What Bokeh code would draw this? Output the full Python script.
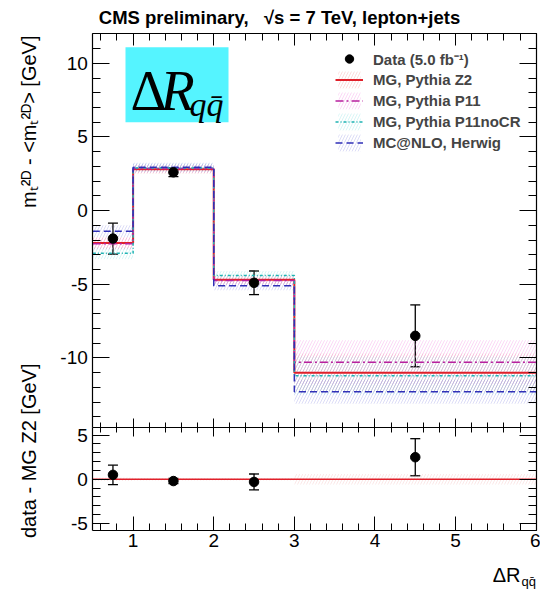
import numpy as np
from bokeh.plotting import figure
from bokeh.models import (Range1d, LinearAxis, SingleIntervalTicker, Whisker, TeeHead,
                          ColumnDataSource, Label, BoxAnnotation, Legend, LegendItem,
                          CustomJSTickFormatter)
from bokeh.embed import file_html
from bokeh.resources import INLINE

# ---------------- data ----------------
bin_edges = [0.5, 1.0, 2.0, 3.0, 6.0]
bin_centers = [0.75, 1.5, 2.5, 4.5]

data_y = [-1.9, 2.6, -4.9, -8.5]
data_err = [1.05, 0.3, 0.8, 2.1]

z2_y = [-2.2, 2.8, -4.7, -11.0]
z2_err = [0.4, 0.3, 0.3, 1.3]
p11_y = [-2.25, 2.85, -4.75, -10.3]
p11_err = [0.4, 0.3, 0.3, 1.5]
nocr_y = [-2.9, 2.9, -4.4, -11.2]
nocr_err = [0.4, 0.3, 0.3, 1.3]
herwig_y = [-1.4, 2.95, -5.1, -12.3]
herwig_err = [0.4, 0.3, 0.3, 0.8]

ratio_y = [0.5, -0.2, -0.3, 2.5]
ratio_err = [1.1, 0.3, 0.9, 2.1]
ratio_zero = [0.0, 0.0, 0.0, 0.0]
ratio_band = [0.2, 0.15, 0.15, 0.6]

upper_lim = (-14.7, 12.0)
lower_lim = (-5.8, 5.9)
x_lim = (0.5, 6.0)

# ---------------- layout (canvas pixels, y down) ----------------
W, H = 540, 590
FX0, FX1 = 92.3, 535.7          # panel left / right
UY0, UY1 = 33.3, 426.7          # upper panel top / bottom
LY1 = 530.0                     # lower panel bottom

sx_ = (FX1 - FX0) / (x_lim[1] - x_lim[0])
xr = Range1d(x_lim[0] - FX0 / sx_, x_lim[1] + (W - FX1) / sx_)
su_ = (UY1 - UY0) / (upper_lim[1] - upper_lim[0])
yr = Range1d(upper_lim[0] - (H - UY1) / su_, upper_lim[1] + UY0 / su_)
sl_ = (LY1 - UY1) / (lower_lim[1] - lower_lim[0])
lr = Range1d(lower_lim[0] - (H - LY1) / sl_, lower_lim[1] + UY1 / sl_)

p = figure(width=W, height=H, x_range=xr, y_range=yr,
           x_axis_type=None, y_axis_type=None, title=None,
           output_backend="svg", toolbar_location=None, min_border=0)
p.extra_y_ranges = {"low": lr}
p.outline_line_color = None
p.background_fill_color = "white"
p.border_fill_color = "white"

FONT = "Liberation Sans"


def add_axis(side, loc, bounds, ticker, tin, tout, min_in, min_out, labels=False, rng=None,
             standoff=5):
    kw = {}
    if rng is not None:
        kw["y_range_name"] = rng
    ax = LinearAxis(ticker=ticker, fixed_location=loc, bounds=bounds, **kw)
    ax.axis_line_color = "black"
    ax.axis_line_width = 1.2
    ax.major_tick_in = tin
    ax.major_tick_out = tout
    ax.minor_tick_in = min_in
    ax.minor_tick_out = min_out
    ax.major_tick_line_color = "black"
    ax.minor_tick_line_color = "black"
    if labels:
        ax.formatter = CustomJSTickFormatter(code="return tick.toFixed(0)")
        ax.major_label_text_font = FONT
        ax.major_label_text_font_size = "19px"
        ax.major_label_text_color = "black"
        ax.major_label_standoff = standoff
    else:
        ax.major_label_text_color = None
    p.add_layout(ax, side)
    return ax


xt = lambda: SingleIntervalTicker(interval=1, num_minor_ticks=5)
yt = lambda: SingleIntervalTicker(interval=5, num_minor_ticks=5)

# upper panel axes
add_axis("left", x_lim[0], upper_lim, yt(), 17, 0, 8, 0, labels=True)
add_axis("right", x_lim[1], upper_lim, yt(), 17, 0, 8, 0)
add_axis("above", upper_lim[1], x_lim, xt(), 12, 0, 7, 0)
add_axis("below", upper_lim[0], x_lim, xt(), 9, 9, 5, 5)
# lower panel axes
add_axis("left", x_lim[0], lower_lim, yt(), 17, 0, 8, 0, labels=True, rng="low")
add_axis("right", x_lim[1], lower_lim, yt(), 17, 0, 8, 0, rng="low")
add_axis("below", lower_lim[0], x_lim, xt(), 14, 0, 7, 0, labels=True, rng="low", standoff=3)

# ---------------- MC histograms ----------------
series = [
    ("MG, Pythia Z2", z2_y, z2_err, "#E0202A", "solid", 2.0, "#F08080"),
    ("MG, Pythia P11", p11_y, p11_err, "#B8209E", "8 3 2 3", 1.5, "#F070E0"),
    ("MG, Pythia P11noCR", nocr_y, nocr_err, "#1FB3B3", "3 2 1 2", 1.5, "#70DDE0"),
    ("MC@NLO, Herwig", herwig_y, herwig_err, "#3030B8", "7 4", 1.5, "#8080DD"),
]

bands = {}
for name, ys, errs, col, dash, lw, hcol in series:
    ys = np.array(ys)
    errs = np.array(errs)
    bands[name] = p.quad(left=bin_edges[:-1], right=bin_edges[1:], bottom=ys - errs, top=ys + errs,
                         fill_alpha=0, line_color=None, hatch_pattern="/", hatch_color=hcol,
                         hatch_alpha=0.35, hatch_scale=6, hatch_weight=0.8)

steps = {}
for name, ys, errs, col, dash, lw, hcol in series:
    steps[name] = p.step(x=bin_edges, y=list(ys) + [ys[-1]], mode="after", line_color=col,
                         line_dash=dash, line_width=lw)

# ---------------- data points ----------------
dsrc = ColumnDataSource(dict(x=bin_centers, y=data_y,
                             upper=np.array(data_y) + np.array(data_err),
                             lower=np.array(data_y) - np.array(data_err)))
p.add_layout(Whisker(source=dsrc, base="x", upper="upper", lower="lower", dimension="height",
                     line_width=1.3, line_color="black",
                     upper_head=TeeHead(size=10, line_width=1.3, line_color="black"),
                     lower_head=TeeHead(size=10, line_width=1.3, line_color="black")))
dots = p.scatter("x", "y", source=dsrc, size=9.5, color="black")

# ---------------- lower panel ----------------
rb = np.array(ratio_band)
p.quad(left=bin_edges[:-1], right=bin_edges[1:], bottom=-rb, top=rb, y_range_name="low",
       fill_alpha=0, line_color=None, hatch_pattern="/", hatch_color="#F0A0A0",
       hatch_alpha=0.3, hatch_scale=6, hatch_weight=0.8)
p.step(x=bin_edges, y=ratio_zero + [ratio_zero[-1]], mode="after", line_color="#E0202A",
       line_width=1.5, y_range_name="low")
rsrc = ColumnDataSource(dict(x=bin_centers, y=ratio_y,
                             upper=np.array(ratio_y) + np.array(ratio_err),
                             lower=np.array(ratio_y) - np.array(ratio_err)))
p.add_layout(Whisker(source=rsrc, base="x", upper="upper", lower="lower", dimension="height",
                     y_range_name="low", line_width=1.3, line_color="black",
                     upper_head=TeeHead(size=10, line_width=1.3, line_color="black"),
                     lower_head=TeeHead(size=10, line_width=1.3, line_color="black")))
p.scatter("x", "y", source=rsrc, size=9.5, color="black", y_range_name="low")

# ---------------- legend ----------------
items = [LegendItem(label="Data (5.0 fb\u207b\u00b9)", renderers=[dots])]
for name, *_ in series:
    items.append(LegendItem(label=name, renderers=[bands[name], steps[name]]))
leg = Legend(items=items, location=(335, H - 153), padding=0, margin=0, spacing=0,
             glyph_width=28, glyph_height=21, label_height=21, label_standoff=10,
             label_text_font=FONT, label_text_font_style="bold", label_text_font_size="15px",
             background_fill_alpha=0, border_line_color=None)
p.add_layout(leg, "center")


# ---------------- texts (screen px, origin bottom-left of canvas) ----------------
def lab(text, x, y_down, size, align="left", baseline="alphabetic", angle=0, font=FONT,
        style="normal"):
    p.add_layout(Label(text=text, x=x, y=H - y_down, x_units="screen", y_units="screen",
                       text_font=font, text_font_size=size, text_align=align,
                       text_baseline=baseline, angle=angle, text_font_style=style,
                       text_color="black"))


lab("CMS preliminary,\u00a0\u00a0\u00a0\u221as = 7 TeV, lepton+jets", 279, 17, "18.5px",
    align="center", baseline="middle", style="bold")
lab("m\u209c\u00b2\u1d30 - <m\u209c\u00b2\u1d30> [GeV]", 28, 35, "20px", align="right",
    baseline="middle", angle=np.pi / 2)
lab("data - MG Z2 [GeV]", 28, 363, "20px", align="right", baseline="middle", angle=np.pi / 2)
lab("\u0394R", 520, 574, "20px", align="right")
lab("qq\u0304", 521, 581, "13px")

# Delta R box
p.add_layout(BoxAnnotation(left=125, right=228, top=H - 46.7, bottom=H - 121.7,
                           left_units="screen", right_units="screen", top_units="screen",
                           bottom_units="screen", fill_color="#55F4FF", fill_alpha=1,
                           line_color=None, level="underlay"))
lab("\u0394", 130, 90, "56px", font="Liberation Serif")
lab("R", 160, 90, "56px", font="Liberation Serif", style="italic")
lab("qq\u0304", 189, 104, "34px", font="Liberation Serif", style="italic")

open("out.html", "w").write(file_html(p, INLINE))
